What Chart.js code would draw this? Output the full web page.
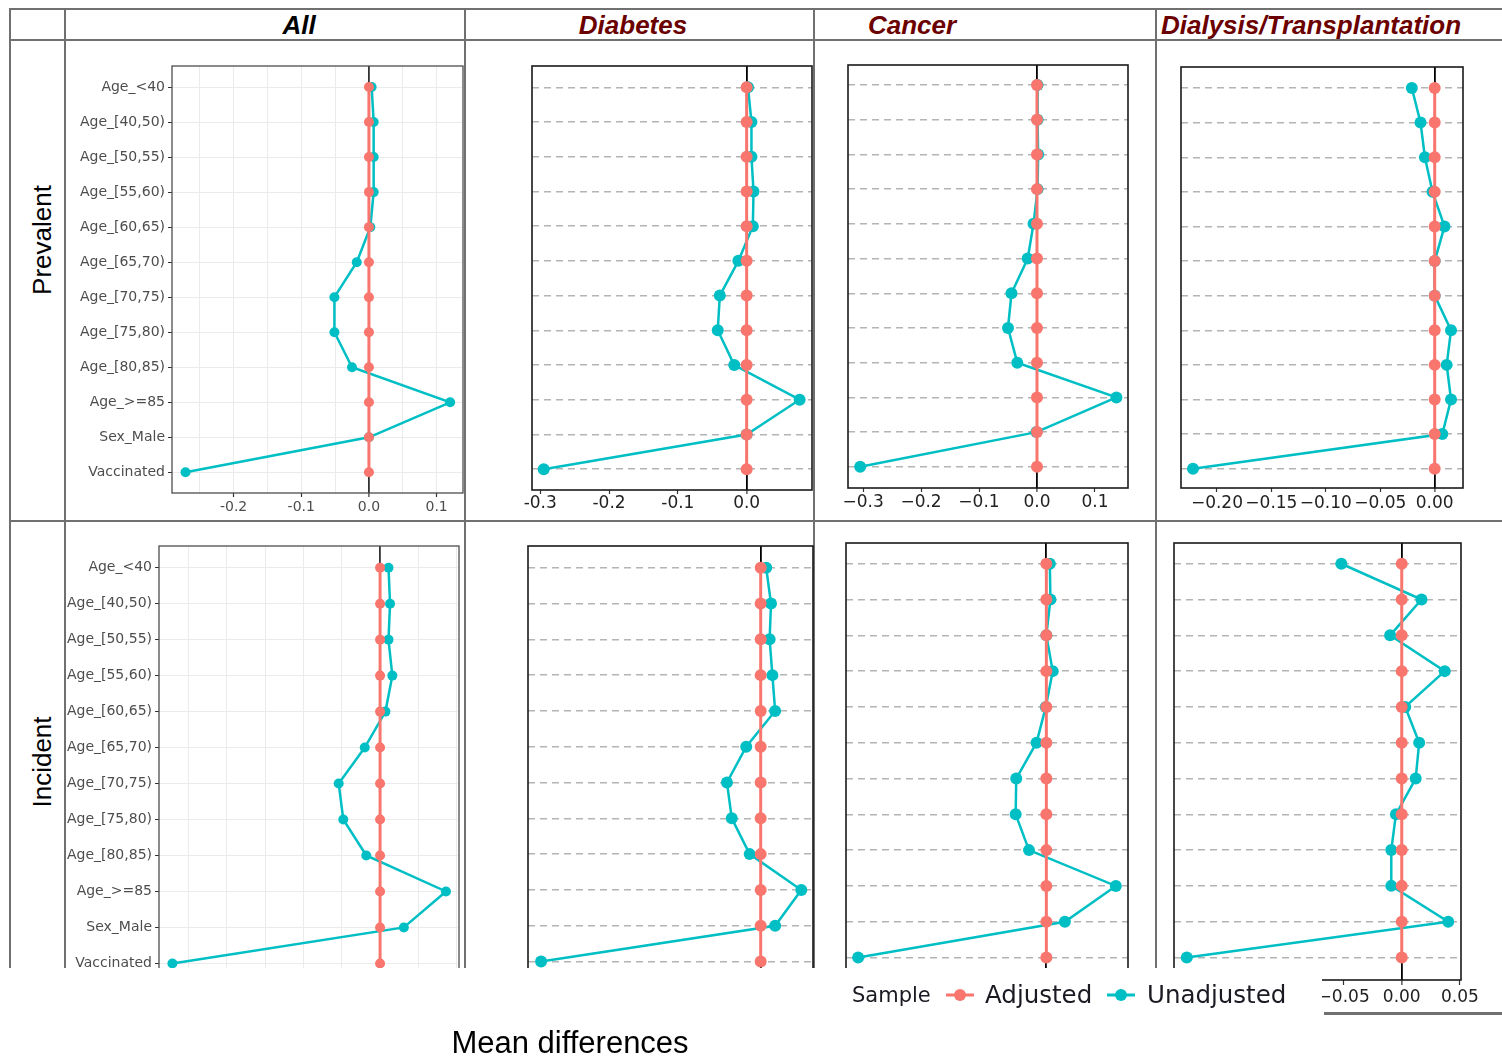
<!DOCTYPE html>
<html>
<head>
<meta charset="utf-8">
<script src="https://cdn.jsdelivr.net/npm/chart.js@4.4.1/dist/chart.umd.min.js"></script>
<style>
  body { margin: 0; background: #fff; }
  #page { position: relative; width: 1502px; height: 1059px; overflow: hidden; background: #fff;
          font-family: "Liberation Sans", Arial, sans-serif; }
  .ln { position: absolute; background: #707070; }
  .hd { position: absolute; top: 9px; height: 32px; line-height: 32px; font-weight: bold; font-style: italic;
        font-size: 26px; color: #6b0000; transform: translateX(-50%); white-space: nowrap; }
  .rl { position: absolute; font-size: 26px; color: #000; transform: translate(-50%, -50%) rotate(-90deg);
        white-space: nowrap; }
  .box { position: absolute; }
  .lg { position: absolute; font-family: "DejaVu Sans", sans-serif; color: #1a1a22; white-space: nowrap; z-index: 5; }
</style>
</head>
<body>
<div id="page">
  <!-- table grid -->
  <div class="ln" style="left:9px;top:8px;width:1493px;height:2px"></div>
  <div class="ln" style="left:9px;top:39px;width:1493px;height:2px"></div>
  <div class="ln" style="left:9px;top:520px;width:1493px;height:2px"></div>
  <div class="ln" style="left:9px;top:8px;width:2px;height:960px"></div>
  <div class="ln" style="left:64px;top:8px;width:2px;height:960px"></div>
  <div class="ln" style="left:464px;top:8px;width:2px;height:960px"></div>
  <div class="ln" style="left:813px;top:8px;width:2px;height:960px"></div>
  <div class="ln" style="left:1155px;top:8px;width:2px;height:960px"></div>

  <div class="hd" style="left:299px;color:#000">All</div>
  <div class="hd" style="left:633px">Diabetes</div>
  <div class="hd" style="left:912px">Cancer</div>
  <div class="hd" style="left:1311px">Dialysis/Transplantation</div>

  <div class="rl" style="left:42px;top:240px">Prevalent</div>
  <div class="rl" style="left:42px;top:762px">Incident</div>

  <div id="clipTop" style="position:absolute;left:0;top:0;width:1502px;height:521px"></div>
  <div id="clipBottom" style="position:absolute;left:0;top:0;width:1502px;height:968px;overflow:hidden"></div>
  <div id="free" style="position:absolute;left:0;top:0;width:1502px;height:1059px"></div>

  <!-- crop of the last panel's strip below the table -->
  <div style="position:absolute;left:1158px;top:968px;width:164px;height:91px;background:#fff;z-index:3"></div>
  <div class="ln" style="left:1324px;top:1012px;width:178px;height:3px;z-index:4"></div>

  <div class="lg" style="left:852px;top:981px;font-size:21px;line-height:28px">Sample</div>
  <svg class="lg" style="left:944px;top:983px" width="32" height="24">
    <line x1="2" y1="12" x2="30" y2="12" stroke="#F8766D" stroke-width="3"/>
    <circle cx="16" cy="12" r="6" fill="#F8766D"/>
  </svg>
  <div class="lg" style="left:985px;top:979px;font-size:24.5px;line-height:32px">Adjusted</div>
  <svg class="lg" style="left:1105px;top:983px" width="32" height="24">
    <line x1="2" y1="12" x2="30" y2="12" stroke="#00BFC4" stroke-width="3"/>
    <circle cx="16" cy="12" r="6" fill="#00BFC4"/>
  </svg>
  <div class="lg" style="left:1147px;top:979px;font-size:24.5px;line-height:32px">Unadjusted</div>

  <div style="position:absolute;left:570px;top:1043px;transform:translate(-50%,-50%);font-size:31px;color:#000;white-space:nowrap">Mean differences</div>
</div>

<script>
const SALMON = '#F8766D';
const TEAL = '#00BFC4';

const categories = ['Age_<40', 'Age_[40,50)', 'Age_[50,55)', 'Age_[55,60)', 'Age_[60,65)', 'Age_[65,70)',
                    'Age_[70,75)', 'Age_[75,80)', 'Age_[80,85)', 'Age_>=85', 'Sex_Male', 'Vaccinated'];

// adjusted sample sits on zero in every panel
const adjusted = [0, 0, 0, 0, 0, 0, 0, 0, 0, 0, 0, 0];

// unadjusted mean differences
const prevAll      = [0.004, 0.007, 0.007, 0.007, 0.002, -0.018, -0.051, -0.051, -0.025, 0.120, 0.000, -0.271];
const prevDiabetes = [0.002, 0.007, 0.007, 0.010, 0.009, -0.012, -0.039, -0.042, -0.018, 0.077, 0.000, -0.295];
const prevCancer   = [0.001, 0.001, 0.002, 0.001, -0.006, -0.016, -0.044, -0.050, -0.034, 0.137, -0.001, -0.305];
const prevDialysis = [-0.021, -0.013, -0.009, -0.002, 0.009, 0.000, 0.000, 0.015, 0.011, 0.015, 0.007, -0.222];
const incAll       = [0.011, 0.013, 0.011, 0.016, 0.007, -0.020, -0.054, -0.048, -0.018, 0.086, 0.031, -0.271];
const incDiabetes  = [0.008, 0.015, 0.013, 0.017, 0.021, -0.021, -0.049, -0.042, -0.016, 0.059, 0.021, -0.319];
const incCancer    = [0.006, 0.007, 0.000, 0.011, -0.001, -0.017, -0.052, -0.053, -0.030, 0.120, 0.032, -0.325];
const incDialysis  = [-0.052, 0.017, -0.010, 0.037, 0.003, 0.015, 0.012, -0.005, -0.009, -0.009, 0.040, -0.185];

// x tick positions
const ggTicks       = [-0.25, -0.2, -0.15, -0.1, -0.05, 0, 0.05, 0.1];
const diabTicks     = [-0.3, -0.2, -0.1, 0];
const cancerTicks   = [-0.3, -0.2, -0.1, 0, 0.1];
const dialPrevTicks = [-0.2, -0.15, -0.1, -0.05, 0];
const dialIncTicks  = [-0.15, -0.1, -0.05, 0, 0.05];

const isTenth = v => Math.abs(v * 10 - Math.round(v * 10)) < 1e-9;
const fmtGG = v => isTenth(v) ? (Math.round(v * 10) / 10).toFixed(1) : '';
const fmtHyphen = v => (Math.round(v * 10) / 10).toFixed(1);
const fmtMinus1 = v => (Math.round(v * 10) / 10).toFixed(1).replace('-', '\u2212');
const fmtMinus2 = v => (Math.round(v * 100) / 100).toFixed(2).replace('-', '\u2212');

// frame round the plotting area
const framePlugin = {
  id: 'frame',
  afterDatasetsDraw(chart, args, opts) {
    const a = chart.chartArea, ctx = chart.ctx;
    ctx.save();
    ctx.strokeStyle = opts.color;
    ctx.lineWidth = opts.width;
    ctx.strokeRect(a.left, a.top, a.right - a.left, a.bottom - a.top);
    ctx.restore();
  }
};

const panels = [
  { host: 'clipTop', values: prevAll, gg: true, l: 172, t: 66, r: 463, b: 493, xmin: -0.291, xmax: 0.139,
    ymin: -0.6, ymax: 11.59, ticks: ggTicks, fmt: fmtGG, tickLen: 4, pad: 2 },
  { host: 'clipTop', values: prevDiabetes, gg: false, l: 532, t: 66, r: 812, b: 490, xmin: -0.312, xmax: 0.095,
    ymin: -0.613, ymax: 11.6, ticks: diabTicks, fmt: fmtHyphen, tickLen: 4, pad: -1 },
  { host: 'clipTop', values: prevCancer, gg: false, l: 848, t: 65, r: 1128, b: 488, xmin: -0.326, xmax: 0.157,
    ymin: -0.576, ymax: 11.61, ticks: cancerTicks, fmt: fmtMinus1, tickLen: 4, pad: 0 },
  { host: 'clipTop', values: prevDialysis, gg: false, l: 1181, t: 67, r: 1463, b: 488, xmin: -0.233, xmax: 0.026,
    ymin: -0.606, ymax: 11.557, ticks: dialPrevTicks, fmt: fmtMinus2, tickLen: 4, pad: 1 },
  { host: 'clipBottom', values: incAll, gg: true, l: 159, t: 546, r: 459, b: 985, xmin: -0.2885, xmax: 0.103,
    ymin: -0.603, ymax: 11.6, ticks: ggTicks, fmt: fmtGG, tickLen: 4, pad: 2 },
  { host: 'clipBottom', values: incDiabetes, gg: false, l: 528, t: 546, r: 813, b: 983, xmin: -0.338, xmax: 0.076,
    ymin: -0.607, ymax: 11.6, ticks: diabTicks, fmt: fmtHyphen, tickLen: 4, pad: -1 },
  { host: 'clipBottom', values: incCancer, gg: false, l: 846, t: 543, r: 1128, b: 979, xmin: -0.346, xmax: 0.141,
    ymin: -0.579, ymax: 11.6, ticks: cancerTicks, fmt: fmtMinus1, tickLen: 4, pad: 0 },
  { host: 'free', values: incDialysis, gg: false, l: 1174, t: 543, r: 1461, b: 980, xmin: -0.196, xmax: 0.051,
    ymin: -0.58, ymax: 11.63, ticks: dialIncTicks, fmt: fmtMinus2, tickLen: 5, pad: 2 }
];

panels.forEach(p => {
  const padL = p.gg ? 110 : 12, padT = 6, padR = 32, padB = 44;
  const w = p.r - p.l + padL + padR, h = p.b - p.t + padT + padB;
  const box = document.createElement('div');
  box.className = 'box';
  box.style.left = (p.l - padL) + 'px';
  box.style.top = (p.t - padT) + 'px';
  const cv = document.createElement('canvas');
  cv.width = w; cv.height = h;
  box.appendChild(cv);
  document.getElementById(p.host).appendChild(box);

  const zeroCol = p.gg ? '#333333' : '#000000';
  new Chart(cv, {
    type: 'line',
    data: {
      datasets: [
        { label: 'Adjusted', data: adjusted.map((v, i) => ({ x: v, y: i })),
          borderColor: SALMON, backgroundColor: SALMON, borderWidth: 3,
          pointRadius: p.gg ? 5 : 6, pointBorderWidth: 0, clip: false },
        { label: 'Unadjusted', data: p.values.map((v, i) => ({ x: v, y: i })),
          borderColor: TEAL, backgroundColor: TEAL, borderWidth: 2.5,
          pointRadius: p.gg ? 5 : 6, pointBorderWidth: 0, clip: false }
      ]
    },
    options: {
      responsive: false,
      animation: false,
      layout: { autoPadding: false, padding: { top: padT, right: padR, left: 0, bottom: 0 } },
      plugins: {
        legend: { display: false },
        tooltip: { enabled: false },
        frame: { color: p.gg ? '#4d4d4d' : '#1a1a1a', width: p.gg ? 1.3 : 1.6 }
      },
      scales: {
        x: {
          type: 'linear', position: 'bottom', min: p.xmin, max: p.xmax,
          afterBuildTicks: ax => { ax.ticks = p.ticks.map(v => ({ value: v })); },
          afterFit: ax => {
            ax.height = padB;
            ax.paddingLeft = 0; ax.paddingRight = 0; ax.paddingTop = 0; ax.paddingBottom = 0;
          },
          ticks: {
            autoSkip: false, maxRotation: 0, padding: p.pad,
            callback: v => p.fmt(v),
            color: p.gg ? '#4d4d4d' : '#222',
            font: { family: 'DejaVu Sans', size: p.gg ? 14 : 17 }
          },
          grid: {
            color: c => (c.tick && c.tick.value === 0) ? zeroCol : (p.gg ? '#ebebeb' : 'rgba(0,0,0,0)'),
            lineWidth: c => (c.tick && c.tick.value === 0) ? 1.8 : 1,
            tickLength: p.tickLen,
            tickColor: c => (!p.gg || (c.tick && isTenth(c.tick.value))) ? '#333' : 'rgba(0,0,0,0)',
            tickWidth: 1.2
          },
          border: { display: false }
        },
        y: {
          type: 'linear', reverse: true, min: p.ymin, max: p.ymax,
          afterBuildTicks: ax => { ax.ticks = categories.map((c, i) => ({ value: i })); },
          afterFit: ax => {
            ax.width = padL;
            ax.paddingLeft = 0; ax.paddingRight = 0; ax.paddingTop = 0; ax.paddingBottom = 0;
          },
          ticks: {
            display: p.gg, padding: 3, autoSkip: false,
            callback: v => categories[v],
            color: '#4d4d4d',
            font: { family: 'DejaVu Sans', size: 14 }
          },
          grid: {
            color: p.gg ? '#ebebeb' : '#b4b4b4',
            lineWidth: p.gg ? 1 : 1.4,
            drawTicks: p.gg,
            tickLength: 4,
            tickColor: '#333'
          },
          border: { display: false, dash: p.gg ? [] : [7, 5] }
        }
      }
    },
    plugins: [framePlugin]
  });
});
</script>
</body>
</html>
